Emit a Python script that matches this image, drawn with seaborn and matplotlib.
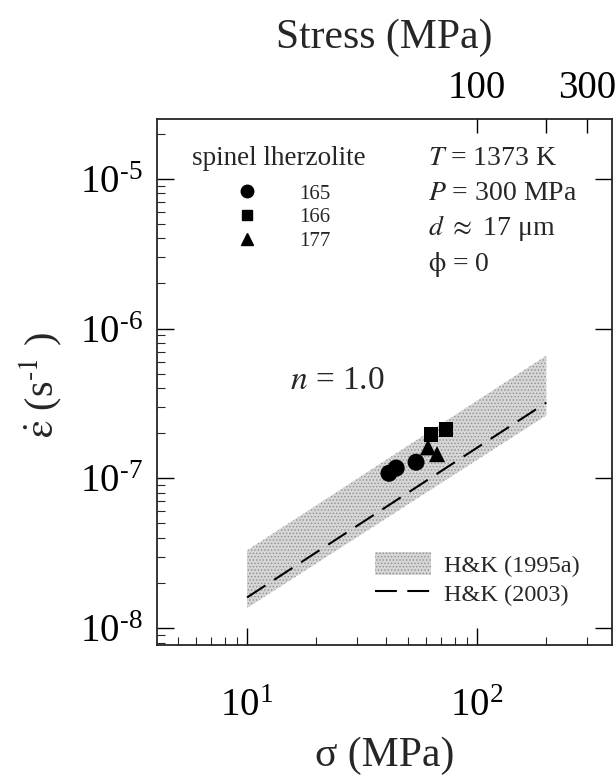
import matplotlib
matplotlib.use('Agg')
import matplotlib.pyplot as plt
import seaborn as sns
import numpy as np
import pandas as pd
from matplotlib.lines import Line2D
from matplotlib.patches import Patch
from matplotlib.ticker import (LogLocator, FixedLocator, NullFormatter, FixedFormatter,
                               NullLocator, FuncFormatter)

# ---------------- data ----------------
sample_ids = ['165', '165', '165', '166', '166', '177', '177']
stress = [41.4, 44.5, 54.3, 63.1, 73.3, 61.2, 67.0]
strain_rate = [1.08e-7, 1.17e-7, 1.28e-7, 1.96e-7, 2.12e-7, 1.61e-7, 1.45e-7]
sample_order = ['165', '166', '177']
sample_markers = {'165': 'o', '166': 's', '177': '^'}

band_stress = [10, 200]
band_low = [1.36e-8, 2.63e-7]
band_high = [3.3e-8, 6.6e-7]

hk2003_stress = [10, 200]
hk2003_rate = [1.6e-8, 3.2e-7]

top_ticks = [100, 200, 300]
top_labels = ['100', '', '300']

conditions = [r'$T$ = 1373 K', r'$P$ = 300 MPa', r'$d$ $\approx$ 17 μm', r'$\mathrm{\phi}$ = 0']

df = pd.DataFrame({'sample': sample_ids, 'stress': stress, 'rate': strain_rate})

# ---------------- style ----------------
sns.set_style('ticks')
plt.rcParams['font.family'] = ['Liberation Serif', 'DejaVu Serif']
plt.rcParams['mathtext.fontset'] = 'stix'
plt.rcParams['axes.linewidth'] = 1.3
plt.rcParams['hatch.linewidth'] = 0.6

W, H = 615, 775
fig = plt.figure(figsize=(W / 100, H / 100), dpi=100)
L, R, T, B = 157, 612, 119, 645
ax = fig.add_axes([L / W, 1 - B / H, (R - L) / W, (B - T) / H])


def ax_x(px):
    return (px - L) / (R - L)


def ax_y(py):
    return (B - py) / (B - T)


# band H&K (1995a)
band = ax.fill_between(band_stress, band_low, band_high, facecolor='#d6d6d6',
                       edgecolor='#8f8f8f', hatch='.....', linewidth=0, zorder=1)

# dashed H&K (2003)
sns.lineplot(x=hk2003_stress, y=hk2003_rate, ax=ax, color='black', linewidth=1.5,
             zorder=2, legend=False)
ax.lines[-1].set_dashes([10.5, 5])

# data points
sizes = {'165': 150, '166': 105, '177': 135}
for s in sample_order:
    sub = df[df['sample'] == s]
    sns.scatterplot(data=sub, x='stress', y='rate', ax=ax, marker=sample_markers[s],
                    color='black', s=sizes[s], edgecolor='none', zorder=3, legend=False)

ax.set_xscale('log')
ax.set_yscale('log')
ax.set_xlim(4.06, 386)
ax.set_ylim(7.7e-9, 2.51e-5)


def pow_fmt(v, pos):
    e = int(round(np.log10(v)))
    if e < 0:
        return r'$\mathdefault{10^{\text{-}%d}}$' % (-e)
    return r'$\mathdefault{10^{%d}}$' % e


# ticks
ax.xaxis.set_major_locator(LogLocator(base=10, numticks=10))
ax.xaxis.set_major_formatter(FuncFormatter(pow_fmt))
ax.xaxis.set_minor_locator(LogLocator(base=10, subs=range(2, 10), numticks=20))
ax.xaxis.set_minor_formatter(NullFormatter())
ax.yaxis.set_major_locator(LogLocator(base=10, numticks=10))
ax.yaxis.set_major_formatter(FuncFormatter(pow_fmt))
ax.yaxis.set_minor_locator(LogLocator(base=10, subs=range(2, 10), numticks=20))
ax.yaxis.set_minor_formatter(NullFormatter())
ax.tick_params(which='major', direction='in', length=12, width=1.0, labelsize=28,
               top=False, right=True, bottom=True, left=True, colors='black')
ax.tick_params(which='minor', direction='in', length=6, width=0.8,
               top=False, right=False, bottom=True, left=True)
ax.tick_params(axis='x', which='major', pad=31)
ax.tick_params(axis='y', which='major', pad=10)

ax.set_xlabel('σ (MPa)', fontsize=30, labelpad=8)
ax.set_ylabel(r'$\dot{\mathrm{\varepsilon}}$ (s$^{\text{-}1}$ )', fontsize=29)
ax.yaxis.set_label_coords(-0.205, 0.494)

# top axis
axt = ax.twiny()
axt.set_xscale('log')
axt.set_xlim(ax.get_xlim())
axt.xaxis.set_major_locator(FixedLocator(top_ticks))
axt.xaxis.set_major_formatter(FixedFormatter(top_labels))
axt.xaxis.set_minor_locator(NullLocator())
axt.tick_params(axis='x', which='major', direction='in', length=10, width=1.0,
                labelsize=28, pad=8.5, top=True, colors='black')
axt.set_xlabel('Stress (MPa)', fontsize=30, labelpad=16)
for sp in axt.spines.values():
    sp.set_visible(False)

# annotations
ys = [165, 200, 235, 271]
for txt, yb in zip(conditions, ys):
    ax.text(ax_x(428), ax_y(yb), txt, transform=ax.transAxes,
            fontsize=20, va='baseline', ha='left')
ax.text(ax_x(290), ax_y(389), r'$n$ = 1.0', transform=ax.transAxes,
        fontsize=24, va='baseline', ha='left')
ax.text(ax_x(192), ax_y(165), 'spinel lherzolite', transform=ax.transAxes,
        fontsize=19.5, va='baseline', ha='left')

# legend samples
msz = {'165': 9, '166': 7.5, '177': 8.5}
h1 = [Line2D([], [], marker=sample_markers[s], color='black', linestyle='none',
             markersize=msz[s]) for s in sample_order]
leg1 = ax.legend(h1, sample_order, loc='upper left',
                 bbox_to_anchor=(ax_x(192), ax_y(184)),
                 bbox_transform=ax.transAxes, frameon=False, fontsize=15,
                 handlelength=5.3, handletextpad=-0.15,
                 labelspacing=0.2, borderpad=0, borderaxespad=0)
ax.add_artist(leg1)

# legend models
h2 = [Patch(facecolor='#d6d6d6', edgecolor='#8f8f8f', hatch='.....', linewidth=0),
      Line2D([], [], color='black', linewidth=1.5, dashes=[10.5, 5])]
leg2 = ax.legend(h2, ['H&K (1995a)', 'H&K (2003)'], loc='upper left',
                 bbox_to_anchor=(ax_x(375), ax_y(552)),
                 bbox_transform=ax.transAxes, frameon=False, fontsize=17.5,
                 handlelength=2.3, handleheight=1.05, handletextpad=0.55,
                 labelspacing=0.2, borderpad=0, borderaxespad=0)

fig.savefig('out.png', dpi=100)
